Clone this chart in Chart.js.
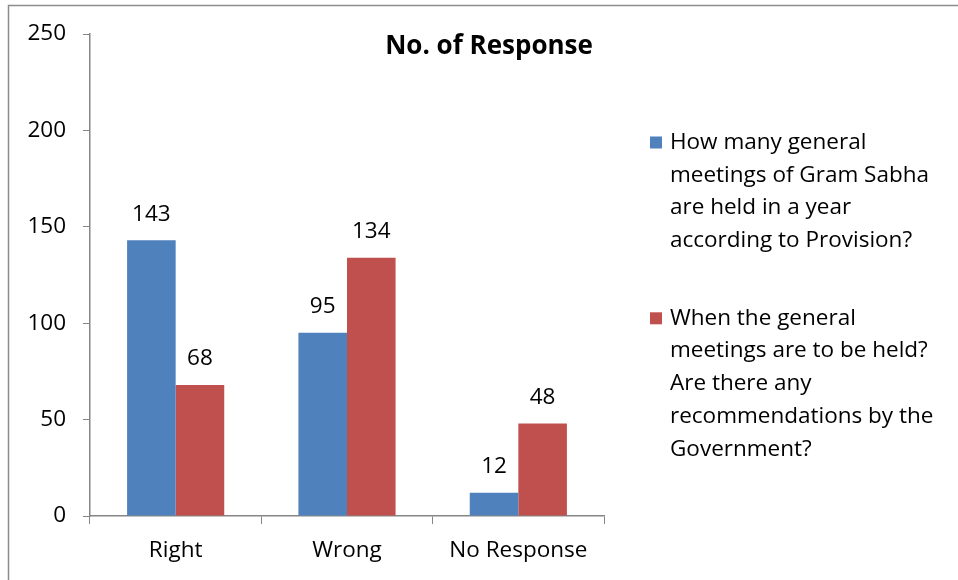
<!DOCTYPE html>
<html>
<head>
<meta charset="utf-8">
<script src="https://cdn.jsdelivr.net/npm/chart.js@4"></script>
<style>
  html, body { margin: 0; padding: 0; background: #fff; }
  #wrap { position: relative; width: 958px; height: 580px; }
</style>
</head>
<body>
<div id="wrap"><canvas id="chart" width="958" height="580"></canvas></div>
<script>
// ── Data ───────────────────────────────────────────────────────────────────────
const categories = ['Right', 'Wrong', 'No Response'];
const provisionCounts = [143, 95, 12];
const governmentCounts = [68, 134, 48];
const seriesNames = [
  ['How many general', 'meetings of Gram Sabha', 'are held in a year', 'according to Provision?'],
  ['When the general', 'meetings are to be held?', 'Are there any', 'recommendations by the', 'Government?']
];
const yTicks = [0, 50, 100, 150, 200, 250];
const chartTitle = 'No. of Response';

const FONT = '"Open Sans", sans-serif';
const TEXT_SIZE = 22.5;
const BLUE = '#4F81BD';
const RED = '#C0504D';
const AXIS = '#868686';

// Outer frame + title + value labels + wrapped legend, all drawn on the canvas.
const decorations = {
  id: 'decorations',
  beforeDraw(chart) {
    const c = chart.ctx;
    c.save();
    c.strokeStyle = '#8c8c8c';
    c.lineWidth = 1.5;
    c.beginPath();
    c.moveTo(8.5, 580); c.lineTo(8.5, 5.5); c.lineTo(958, 5.5);
    c.stroke();
    c.restore();
  },
  afterDatasetsDraw(chart) {
    const c = chart.ctx;
    c.save();
    c.fillStyle = '#000';
    c.textAlign = 'center';
    c.textBaseline = 'middle';

    c.font = `bold 26px ${FONT}`;
    c.fillText(chartTitle, 489, 47);

    c.font = `${TEXT_SIZE}px ${FONT}`;
    chart.data.datasets.forEach((ds, i) => {
      chart.getDatasetMeta(i).data.forEach((bar, j) => {
        c.fillText(String(ds.data[j]), bar.x, bar.y - 26);
      });
    });

    // legend
    c.textAlign = 'left';
    const lh = 32.7;
    let y = 142.5;
    chart.data.datasets.forEach(ds => {
      c.fillStyle = ds.backgroundColor;
      c.fillRect(650, y - 6, 12, 12);
      c.fillStyle = '#000';
      ds.label.forEach((line, k) => c.fillText(line, 670, y + k * lh));
      y += ds.label.length * lh + 45;
    });
    c.restore();
  }
};

new Chart(document.getElementById('chart'), {
  type: 'bar',
  data: {
    labels: categories,
    datasets: [
      { label: seriesNames[0], data: provisionCounts, backgroundColor: BLUE,
        categoryPercentage: 0.567, barPercentage: 1.0 },
      { label: seriesNames[1], data: governmentCounts, backgroundColor: RED,
        categoryPercentage: 0.567, barPercentage: 1.0 }
    ]
  },
  options: {
    responsive: false,
    animation: false,
    layout: { padding: { left: 0, right: 354, top: 34, bottom: 0 } },
    plugins: { legend: { display: false }, title: { display: false }, tooltip: { enabled: false } },
    scales: {
      x: {
        grid: { offset: true, drawOnChartArea: false, drawTicks: true, tickLength: 8, color: AXIS },
        border: { display: true, color: AXIS, width: 1.5 },
        ticks: { color: '#000', font: { family: FONT, size: TEXT_SIZE }, padding: 13 },
        afterFit: s => { s.height = 64; }
      },
      y: {
        min: 0, max: 250,
        afterBuildTicks: s => { s.ticks = yTicks.map(v => ({ value: v })); },
        grid: { drawOnChartArea: false, drawTicks: true, tickLength: 7, color: AXIS },
        border: { display: true, color: AXIS, width: 1.5 },
        ticks: { color: '#000', font: { family: FONT, size: TEXT_SIZE }, padding: 17 },
        afterFit: s => { s.width = 90; }
      }
    }
  },
  plugins: [decorations]
});
</script>
</body>
</html>
